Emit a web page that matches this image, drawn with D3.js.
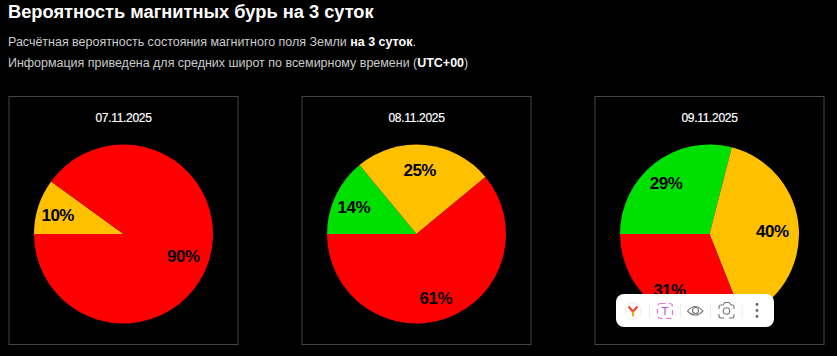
<!DOCTYPE html>
<html>
<head>
<meta charset="utf-8">
<script src="https://cdn.jsdelivr.net/npm/d3@7"></script>
<style>
  html, body { margin: 0; padding: 0; background: #000; overflow: hidden; }
  text { font-family: "Liberation Sans", Arial, sans-serif; }
</style>
</head>
<body>
<div id="chart"></div>
<script>
(function () {

  // Data
  const dates = ["07.11.2025", "08.11.2025", "09.11.2025"]
  const levels = ["Спокойно", "Возмущение", "Буря"]
  const quiet = [0, 14, 29]
  const unsettled = [10, 25, 40]
  const storm = [90, 61, 31]
  const levelColors = ["#00e000", "#ffc000", "#ff0000"]

  const width = 837
  const height = 356

  const svg = d3.select("#chart").append("svg")
      .attr("width", width)
      .attr("height", height)
      .style("display", "block")

  // Heading
  svg.append("text")
    .attr("x", 8).attr("y", 17.5)
    .attr("fill", "#fff")
    .attr("font-size", 18.25).attr("font-weight", "bold")
    .text("Вероятность магнитных бурь на 3 суток")

  const line1 = svg.append("text")
    .attr("x", 8).attr("y", 46)
    .attr("fill", "#ccc")
    .attr("font-size", 12.47)
  line1.append("tspan").text("Расчётная вероятность состояния магнитного поля Земли ")
  line1.append("tspan").attr("fill", "#fff").attr("font-weight", "bold").text("на 3 суток")
  line1.append("tspan").text(".")

  const line2 = svg.append("text")
    .attr("x", 8).attr("y", 67)
    .attr("fill", "#ccc")
    .attr("font-size", 12.47)
  line2.append("tspan").text("Информация приведена для средних широт по всемирному времени (")
  line2.append("tspan").attr("fill", "#fff").attr("font-weight", "bold").text("UTC+00")
  line2.append("tspan").text(")")

  // Panels
  const panelX = d3.scalePoint()
    .domain(dates)
    .range([123.5, 709.5])

  const color = d3.scaleOrdinal().domain(levels).range(levelColors)

  // Starts at nine o'clock and runs clockwise
  const pie = d3.pie()
    .sort(null)
    .value(d => d.value)
    .startAngle(-Math.PI / 2)
    .endAngle(Math.PI * 1.5)

  const arc = d3.arc().innerRadius(0).outerRadius(89.5)
  const labelArc = d3.arc().innerRadius(66).outerRadius(66)

  const panels = svg.selectAll("g.panel")
    .data(dates)
    .join("g")
    .attr("class", "panel")
    .attr("transform", d => "translate(" + panelX(d) + ",234)")

  panels.append("rect")
    .attr("x", -114.5).attr("y", -137.5)
    .attr("width", 229).attr("height", 248)
    .attr("fill", "none")
    .attr("stroke", "#444")

  panels.append("text")
    .attr("y", -112)
    .attr("text-anchor", "middle")
    .attr("fill", "#fff")
    .attr("font-size", 12)
    .attr("letter-spacing", -0.3)
    .attr("stroke", "#fff")
    .attr("stroke-width", 0.2)
    .text(d => d)

  panels.each(function (date, i) {
    const rows = levels
      .map((level, k) => ({ level, value: [quiet, unsettled, storm][k][i] }))
      .filter(d => d.value > 0)
    const g = d3.select(this)

    g.selectAll("path")
      .data(pie(rows))
      .join("path")
      .attr("d", arc)
      .attr("fill", d => color(d.data.level))

    g.selectAll("text.pct")
      .data(pie(rows))
      .join("text")
      .attr("class", "pct")
      .attr("transform", d => {
        const c = labelArc.centroid(d)
        return "translate(" + (c[0] - 3) + "," + (c[1] + 7.5) + ")"
      })
      .attr("text-anchor", "middle")
      .attr("fill", "#000")
      .attr("font-size", 17)
      .attr("letter-spacing", -0.5)
      .attr("font-weight", "bold")
      .text(d => d.data.value + "%")
  })

  // Browser extension toolbar sitting on top of the last chart
  const bar = svg.append("g").attr("transform", "translate(616,294)")
  bar.append("rect")
    .attr("width", 158).attr("height", 33).attr("rx", 8)
    .attr("fill", "#fff")

  bar.selectAll("line.sep")
    .data([33.5, 64.5, 94.5, 126])
    .join("line")
    .attr("class", "sep")
    .attr("x1", d => d).attr("x2", d => d)
    .attr("y1", 10).attr("y2", 24)
    .attr("stroke", "#ececec")

  // Y logo
  bar.append("circle").attr("cx", 17).attr("cy", 17).attr("r", 8)
    .attr("fill", "#fff").attr("stroke", "#eee")
  bar.append("path").attr("d", "M12.5 12.5L17 17.5L21.5 12.5")
    .attr("fill", "none").attr("stroke", "#f0492e").attr("stroke-width", 2.2)
  bar.append("path").attr("d", "M17 17.5V22.5")
    .attr("fill", "none").attr("stroke", "#f5a623").attr("stroke-width", 2.2)

  // Text scan icon
  bar.append("rect").attr("x", 41.5).attr("y", 9.5).attr("width", 15).attr("height", 15).attr("rx", 3)
    .attr("fill", "none").attr("stroke", "#f06fd8").attr("stroke-width", 1.2)
    .attr("stroke-dasharray", "5 3.5")
  bar.append("path").attr("d", "M45.5 13.5H52.5M49 13.5V21")
    .attr("fill", "none").attr("stroke", "#b05fd0").attr("stroke-width", 1.2)

  // Eye
  bar.append("path").attr("d", "M71.5 17Q79 8 87 17Q79 25 71.5 17Z")
    .attr("fill", "none").attr("stroke", "#777").attr("stroke-width", 1.1)
  bar.append("circle").attr("cx", 79.5).attr("cy", 16.5).attr("r", 3)
    .attr("fill", "none").attr("stroke", "#777").attr("stroke-width", 1.1)

  // Camera
  bar.append("path").attr("d", "M103 15V13Q103 11 105 11H107L109 8.5H113L115 11H117Q118 11 118 13V15M103 20V22Q103 24 105 24H108M113 24H116Q118 24 118 22V20")
    .attr("fill", "none").attr("stroke", "#777").attr("stroke-width", 1.1)
  bar.append("circle").attr("cx", 110.5).attr("cy", 17).attr("r", 3.2)
    .attr("fill", "none").attr("stroke", "#777").attr("stroke-width", 1.1)

  // Menu dots
  bar.selectAll("circle.dot")
    .data([10.5, 16.5, 22.5])
    .join("circle")
    .attr("class", "dot")
    .attr("cx", 141).attr("cy", d => d).attr("r", 1.4)
    .attr("fill", "#666")

})();
</script>
</body>
</html>
